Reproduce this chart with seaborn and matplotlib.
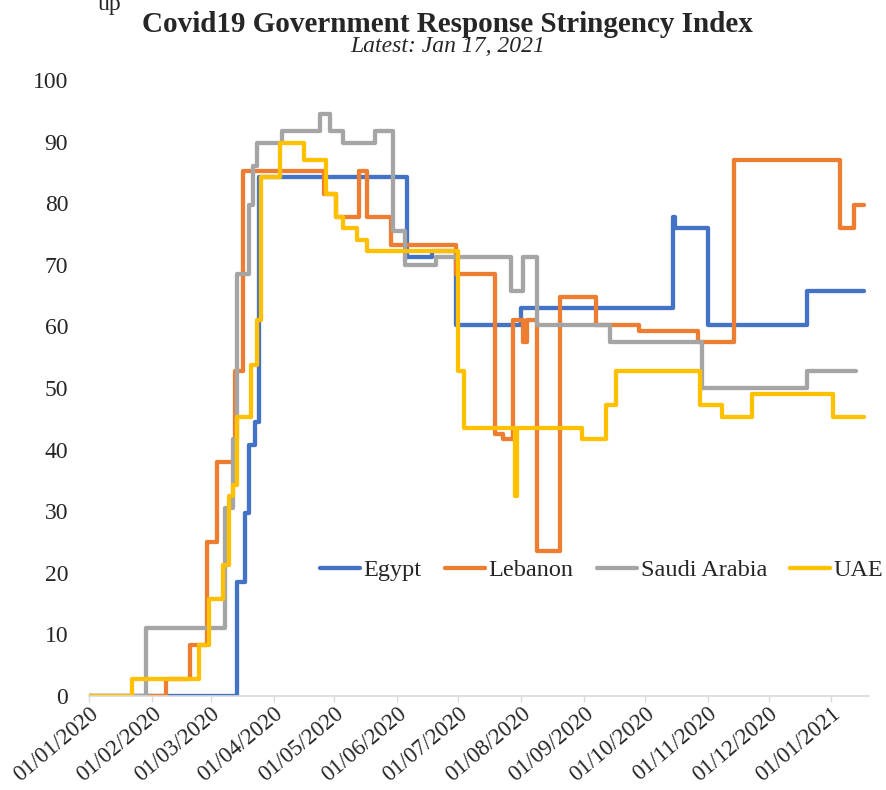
import matplotlib
matplotlib.use("Agg")
import matplotlib.pyplot as plt
import matplotlib.dates as mdates
import pandas as pd
import seaborn as sns

# Stringency index change points (date the value takes effect, value)
egypt_dates = ["2020-01-01", "2020-03-14", "2020-03-18", "2020-03-20", "2020-03-23",
               "2020-03-25", "2020-06-06", "2020-06-18", "2020-06-30", "2020-08-01",
               "2020-10-15", "2020-10-16", "2020-11-01", "2020-12-20", "2021-01-17"]
egypt_values = [0, 18.52, 29.63, 40.74, 44.44,
                84.26, 71.30, 72.22, 60.19, 62.96,
                77.78, 75.93, 60.19, 65.74, 65.74]

lebanon_dates = ["2020-01-01", "2020-02-08", "2020-02-20", "2020-02-28", "2020-03-04",
                 "2020-03-13", "2020-03-17", "2020-04-26", "2020-05-02", "2020-05-13",
                 "2020-05-17", "2020-05-29", "2020-06-30", "2020-07-19", "2020-07-23",
                 "2020-07-28", "2020-08-02", "2020-08-04", "2020-08-09", "2020-08-20",
                 "2020-09-07", "2020-09-28", "2020-10-27", "2020-11-14", "2021-01-05",
                 "2021-01-12", "2021-01-17"]
lebanon_values = [0, 2.78, 8.33, 25.00, 37.96,
                  52.78, 85.19, 81.48, 77.78, 85.19,
                  77.78, 73.15, 68.52, 42.59, 41.67,
                  61.11, 57.41, 61.11, 23.61, 64.81,
                  60.19, 59.26, 57.41, 87.04, 75.93,
                  79.63, 79.63]

saudi_dates = ["2020-01-01", "2020-01-29", "2020-03-08", "2020-03-12", "2020-03-14",
               "2020-03-20", "2020-03-22", "2020-03-24", "2020-04-05", "2020-04-24",
               "2020-04-29", "2020-05-05", "2020-05-21", "2020-05-30", "2020-06-05",
               "2020-06-20", "2020-07-27", "2020-08-02", "2020-08-09", "2020-09-14",
               "2020-10-29", "2020-12-20", "2021-01-13"]
saudi_values = [0, 11.11, 30.56, 41.67, 68.52,
                79.63, 86.11, 89.81, 91.67, 94.44,
                91.67, 89.81, 91.67, 75.46, 69.91,
                71.30, 65.74, 71.30, 60.19, 57.41,
                50.00, 52.78, 52.78]

uae_dates = ["2020-01-01", "2020-01-22", "2020-02-24", "2020-02-29", "2020-03-07",
             "2020-03-10", "2020-03-12", "2020-03-14", "2020-03-21", "2020-03-24",
             "2020-03-26", "2020-04-04", "2020-04-16", "2020-04-27", "2020-05-02",
             "2020-05-05", "2020-05-12", "2020-05-17", "2020-07-01", "2020-07-04",
             "2020-07-29", "2020-07-30", "2020-08-31", "2020-09-12", "2020-09-17",
             "2020-10-28", "2020-11-08", "2020-11-23", "2021-01-02", "2021-01-17"]
uae_values = [0, 2.78, 8.33, 15.74, 21.30,
              32.41, 34.26, 45.37, 53.70, 61.11,
              84.26, 89.81, 87.04, 81.48, 77.78,
              75.93, 74.07, 72.22, 52.78, 43.52,
              32.41, 43.52, 41.67, 47.22, 52.78,
              47.22, 45.37, 49.07, 45.37, 45.37]

countries = ["Egypt", "Lebanon", "Saudi Arabia", "UAE"]
colors = ["#4472C4", "#ED7D31", "#A5A5A5", "#FFC000"]
y_ticks = [0, 10, 20, 30, 40, 50, 60, 70, 80, 90, 100]

frames = []
for name, d, v in zip(countries,
                      [egypt_dates, lebanon_dates, saudi_dates, uae_dates],
                      [egypt_values, lebanon_values, saudi_values, uae_values]):
    frames.append(pd.DataFrame({"date": pd.to_datetime(d), "value": v, "country": name}))
df = pd.concat(frames, ignore_index=True)

sns.set_theme(style="white")
plt.rcParams["font.family"] = ["Liberation Serif", "DejaVu Serif"]

fig = plt.figure(figsize=(8.86, 7.90), dpi=100)
ax = fig.add_axes([89 / 886, 94 / 790, 780 / 886, 616 / 790])

sns.lineplot(data=df, x="date", y="value", hue="country", hue_order=countries,
             palette=colors, drawstyle="steps-post", linewidth=3.1,
             estimator=None, ax=ax, legend=True)

ax.set_xlim(pd.Timestamp("2020-01-01"), pd.Timestamp("2021-01-19 12:00"))
ax.set_ylim(0, 100)
ax.set_yticks(y_ticks)
ax.set_xlabel("")
ax.set_ylabel("")

ax.xaxis.set_major_locator(mdates.MonthLocator())
ax.xaxis.set_major_formatter(mdates.DateFormatter("%d/%m/%Y"))
plt.setp(ax.get_xticklabels(), rotation=40, ha="right", va="top",
         rotation_mode="anchor")
ax.tick_params(axis="x", which="major", direction="out", length=4, width=1,
               color="#D9D9D9", labelsize=16.5, pad=1, bottom=True)
ax.tick_params(axis="y", length=0, labelsize=17, pad=15)

for side in ["top", "right", "left"]:
    ax.spines[side].set_visible(False)
ax.spines["bottom"].set_color("#D9D9D9")
ax.spines["bottom"].set_linewidth(1.2)
ax.grid(False)

handles, labels = ax.get_legend_handles_labels()
ax.legend(handles, labels, ncol=4, frameon=False, loc="center left",
          fontsize=17.5, handlelength=1.65, handletextpad=0.15, columnspacing=0.95,
          borderpad=0, borderaxespad=0,
          bbox_to_anchor=((320 - 89) / 780, (696 - 570) / 616),
          bbox_transform=ax.transAxes)

fig.text(0.505, 1 - 24 / 790, "Covid19 Government Response Stringency Index",
         ha="center", va="center", fontsize=21, fontweight="bold")
fig.text(0.505, 1 - 47 / 790, "Latest: Jan 17, 2021",
         ha="center", va="center", fontsize=17, fontstyle="italic")
fig.text(98 / 886, 1 - 10 / 790, "up", ha="left", va="baseline", fontsize=17)

fig.savefig("out.png", dpi=100, facecolor="white")
